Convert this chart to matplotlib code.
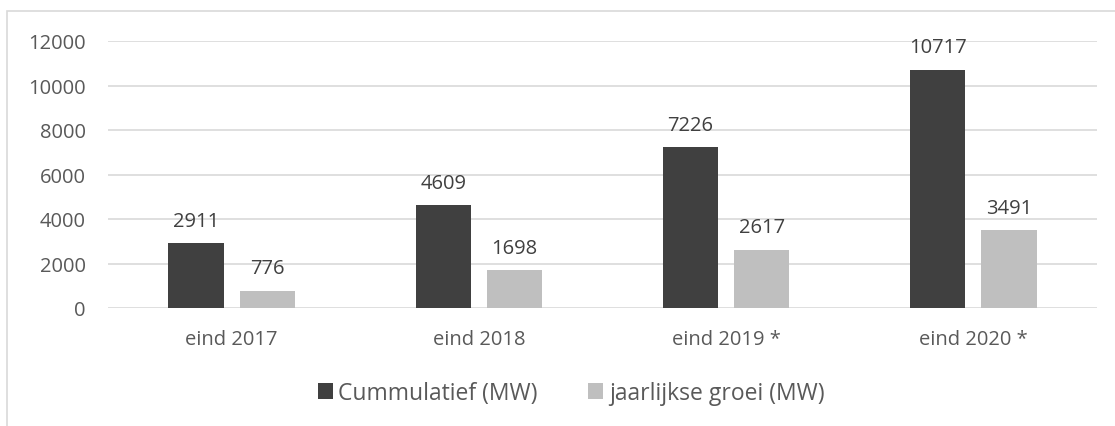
import matplotlib
matplotlib.use("Agg")
import matplotlib.pyplot as plt
import numpy as np
from matplotlib.patches import Rectangle

categories = ["eind 2017", "eind 2018", "eind 2019 *", "eind 2020 *"]
cumulative = [2911, 4609, 7226, 10717]
yearly_growth = [776, 1698, 2617, 3491]
series_names = ["Cummulatief (MW)", "jaarlijkse groei (MW)"]
yticks = [0, 2000, 4000, 6000, 8000, 10000, 12000]

DARK = "#404040"
LIGHT = "#BFBFBF"
TICK_COLOR = "#595959"
GRID_COLOR = "#D9D9D9"

plt.rcParams["font.family"] = ["Open Sans", "DejaVu Sans"]

fig = plt.figure(figsize=(11.15, 4.27), dpi=100)
ax = fig.add_axes([108 / 1115, 1 - 309 / 427, 989 / 1115, 267 / 427])

# outer chart border, only top and left edges are inside the crop
fig.patches.append(Rectangle((7 / 1115, -0.1), 1.2, 1.1 - 12 / 427,
                             transform=fig.transFigure, fill=False,
                             edgecolor=GRID_COLOR, linewidth=1.2))

x = np.arange(len(categories))
width = 0.223
offset = 0.144

bars1 = ax.bar(x - offset, cumulative, width=width, color=DARK, label=series_names[0], zorder=3)
bars2 = ax.bar(x + offset, yearly_growth, width=width, color=LIGHT, label=series_names[1], zorder=3)

for bars in (bars1, bars2):
    for b in bars:
        ax.annotate(f"{int(b.get_height())}", (b.get_x() + b.get_width() / 2, b.get_height()),
                    xytext=(0, 9), textcoords="offset points", ha="center", va="bottom",
                    fontsize=14.5, color=DARK)

ax.set_xlim(-0.5, len(categories) - 0.5)
ax.set_ylim(0, 12000)
ax.set_yticks(yticks)
ax.set_xticks(x)
ax.set_xticklabels(categories)
ax.yaxis.grid(True, color=GRID_COLOR, linewidth=1.2, zorder=0)
ax.set_axisbelow(True)
for side in ["top", "right", "left", "bottom"]:
    ax.spines[side].set_visible(False)
ax.tick_params(axis="both", length=0, labelsize=14.5, labelcolor=TICK_COLOR)
ax.tick_params(axis="y", pad=16)
ax.tick_params(axis="x", pad=15)

fig.legend(handles=[bars1, bars2], labels=series_names, loc="center",
           bbox_to_anchor=(571 / 1115, 1 - 394 / 427), ncol=2, frameon=False,
           fontsize=16.5, labelcolor=TICK_COLOR, handlelength=0.65, handleheight=0.65,
           handletextpad=0.25, columnspacing=2.2)

fig.savefig("out.png", dpi=100)
